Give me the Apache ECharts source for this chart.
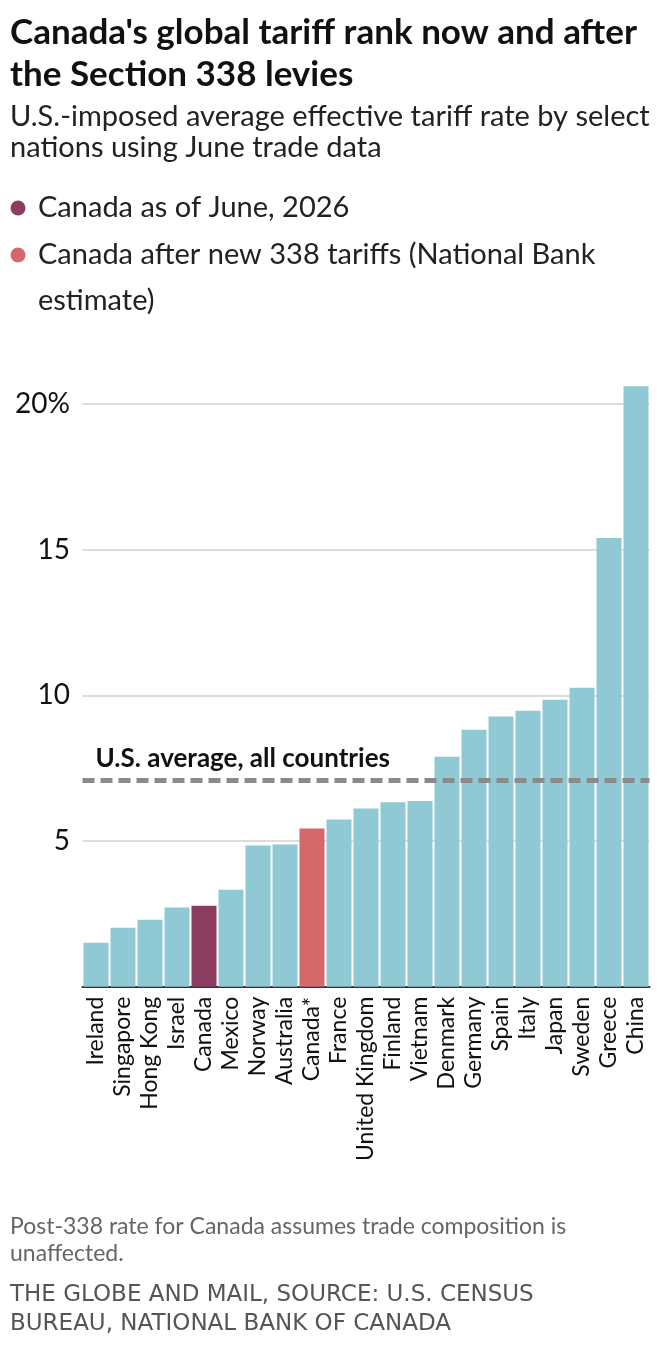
<!DOCTYPE html>
<html>
<head>
<meta charset="utf-8">
<script src="https://cdn.jsdelivr.net/npm/echarts@6/dist/echarts.min.js"></script>
<style>
  html, body { margin: 0; padding: 0; background: #fff; }
  #chart { width: 660px; height: 1352px; }
</style>
</head>
<body>
<div id="chart"></div>
<script>
// 国家（按税率从低到高）
var countries = ['Ireland', 'Singapore', 'Hong Kong', 'Israel', 'Canada', 'Mexico', 'Norway', 'Australia',
    'Canada*', 'France', 'United Kingdom', 'Finland', 'Vietnam', 'Denmark', 'Germany', 'Spain', 'Italy',
    'Japan', 'Sweden', 'Greece', 'China'];
// 平均有效关税率 %
var rates = [1.51, 2.02, 2.30, 2.72, 2.78, 3.33, 4.85, 4.88, 5.43, 5.74, 6.12, 6.33, 6.37, 7.89, 8.82,
    9.27, 9.47, 9.85, 10.26, 15.40, 20.61];
var usAverage = 7.1;
var yTicks = [0, 5, 10, 15, 20];

var legendItems = ['Canada as of June, 2026', 'Canada after new 338 tariffs (National Bank\nestimate)'];
var highlight = { 'Canada': '#8b3d60', 'Canada*': '#d4686a' };
var barColor = '#8fc9d3';
var font = 'Lato, "Noto Sans", sans-serif';

var barData = [];
for (var i = 0; i < countries.length; i++) {
    barData.push({
        value: rates[i],
        itemStyle: { color: highlight[countries[i]] || barColor }
    });
}

var myChart = echarts.init(document.getElementById('chart'));
var option = {
    backgroundColor: '#fff',
    animation: false,
    title: [{
        text: "Canada's global tariff rank now and after\nthe Section 338 levies",
        left: 10, top: 12, padding: 0,
        textStyle: { fontFamily: font, fontSize: 35, fontWeight: 'bold', color: '#111', lineHeight: 42 }
    }, {
        text: 'U.S.-imposed average effective tariff rate by select\nnations using June trade data',
        left: 10, top: 101, padding: 0,
        textStyle: { fontFamily: font, fontSize: 29, fontWeight: 'normal', color: '#222', lineHeight: 31 }
    }, {
        text: 'Post-338 rate for Canada assumes trade composition is\nunaffected.',
        left: 10, top: 1213, padding: 0,
        textStyle: { fontFamily: font, fontSize: 23, fontWeight: 'normal', color: '#666', lineHeight: 27 }
    }, {
        text: 'THE GLOBE AND MAIL, SOURCE: U.S. CENSUS\nBUREAU, NATIONAL BANK OF CANADA',
        left: 10, top: 1281, padding: 0,
        textStyle: { fontFamily: '"DejaVu Sans", ' + font, fontSize: 23, fontWeight: 'normal', color: '#555', lineHeight: 29 }
    }],
    // 图例（手工画）
    graphic: [
        { type: 'circle', shape: { cx: 18, cy: 208, r: 7.5 }, style: { fill: highlight['Canada'] } },
        { type: 'text', left: 38, top: 185, style: { text: legendItems[0], font: '29px ' + font, fill: '#222', lineHeight: 46 } },
        { type: 'circle', shape: { cx: 18, cy: 255, r: 7.5 }, style: { fill: highlight['Canada*'] } },
        { type: 'text', left: 38, top: 232, style: { text: legendItems[1], font: '29px ' + font, fill: '#222', lineHeight: 46 } }
    ],
    grid: { left: 82.5, right: 10.5, top: 404, bottom: 365.3, containLabel: false },
    xAxis: {
        type: 'category',
        data: countries,
        axisLine: { show: true, lineStyle: { color: '#333', width: 2 } },
        axisTick: { show: false },
        axisLabel: {
            rotate: 90, interval: 0, margin: 10,
            fontFamily: font, fontSize: 23, color: '#111'
        }
    },
    yAxis: {
        type: 'value',
        min: yTicks[0], max: yTicks[yTicks.length - 1], interval: 5,
        axisLine: { show: false },
        axisTick: { show: false },
        splitLine: { lineStyle: { color: '#d0d0d0', width: 1.5 } },
        axisLabel: {
            margin: 12.5, fontFamily: font, fontSize: 28, color: '#111',
            formatter: function (v) {
                if (v === 0) return '';
                return v === 20 ? v + '%' : '' + v;
            }
        }
    },
    series: [{
        type: 'bar',
        data: barData,
        barCategoryGap: '7.4%',
        clip: false,
        markLine: {
            silent: true,
            symbol: 'none',
            lineStyle: { color: '#8a8a8a', width: 5, type: [12, 6] },
            label: {
                show: true,
                position: 'insideStartTop',
                distance: [13, 8],
                formatter: 'U.S. average, all countries',
                fontFamily: font, fontSize: 26, fontWeight: 'bold', color: '#111'
            },
            data: [{ yAxis: usAverage }]
        }
    }]
};
myChart.setOption(option);
</script>
</body>
</html>
